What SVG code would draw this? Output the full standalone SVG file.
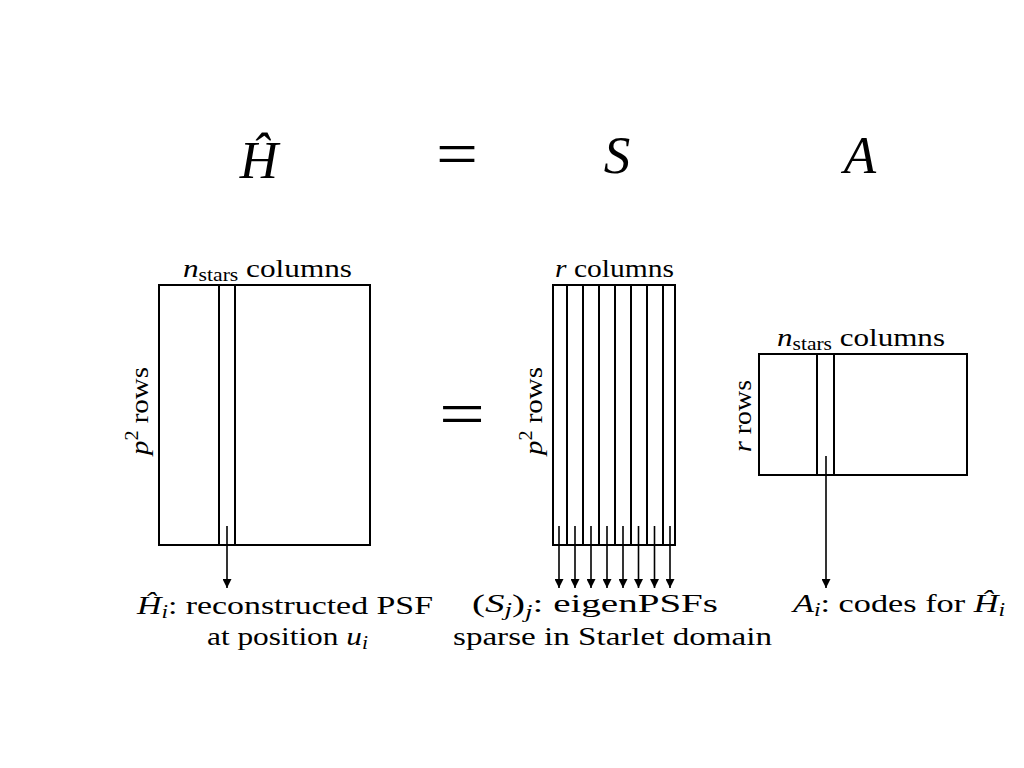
<svg xmlns="http://www.w3.org/2000/svg" width="1024" height="768" viewBox="0 0 1024 768">
<style>
.t{font-family:"Liberation Serif","DejaVu Serif",serif;fill:#000}
.lbl{font-size:26px}
.it{font-style:italic}
.sub{font-size:18px}
.big{font-size:53px;font-style:italic}
.eq{font-size:64px}
.box{fill:none;stroke:#000;stroke-width:2}
.ln{stroke:#000;stroke-width:2;fill:none}
.ar{stroke:#000;stroke-width:1.6;fill:none;marker-end:url(#ah)}
</style>
<defs>
<marker id="ah" markerWidth="10" markerHeight="9" refX="9" refY="4.5" orient="auto" markerUnits="userSpaceOnUse">
<path d="M0,0 L9,4.5 L0,9 Z" fill="#000"/>
</marker>
</defs>
<rect width="1024" height="768" fill="#fff"/>

<g id="equation">
<text class="t big" x="259" y="178" text-anchor="middle">Ĥ</text>
<text class="t eq" x="457" y="175" text-anchor="middle" textLength="42" lengthAdjust="spacingAndGlyphs">=</text>
<text class="t big" x="617" y="173" text-anchor="middle">S</text>
<text class="t big" x="860" y="173" text-anchor="middle">A</text>
<text class="t eq" x="462" y="435" text-anchor="middle" textLength="46" lengthAdjust="spacingAndGlyphs">=</text>
</g>

<g id="matrix-H">
<rect class="box" x="159" y="285" width="211" height="260"/>
<line class="ln" x1="219" y1="285" x2="219" y2="545"/>
<line class="ln" x1="235" y1="285" x2="235" y2="545"/>
<text class="t lbl" x="183" y="277" textLength="169" lengthAdjust="spacingAndGlyphs"><tspan class="it">n</tspan><tspan class="sub" dy="4">stars</tspan><tspan dy="-4"> columns</tspan></text>
<text class="t lbl" transform="translate(148,411) rotate(-90)" text-anchor="middle" textLength="88" lengthAdjust="spacingAndGlyphs"><tspan class="it">p</tspan><tspan class="sub" dy="-10">2</tspan><tspan dy="10"> rows</tspan></text>
<text class="t lbl" x="137" y="614" textLength="296" lengthAdjust="spacingAndGlyphs"><tspan class="it">Ĥ</tspan><tspan class="sub it" dy="4">i</tspan><tspan dy="-4">: reconstructed PSF</tspan></text>
<text class="t lbl" x="207" y="645" textLength="161" lengthAdjust="spacingAndGlyphs">at position <tspan class="it">u</tspan><tspan class="sub it" dy="4">i</tspan></text>
</g>

<g id="matrix-S">
<rect class="box" x="553" y="285" width="122" height="260"/>
<line class="ln" x1="567" y1="285" x2="567" y2="545"/>
<line class="ln" x1="583" y1="285" x2="583" y2="545"/>
<line class="ln" x1="599" y1="285" x2="599" y2="545"/>
<line class="ln" x1="615" y1="285" x2="615" y2="545"/>
<line class="ln" x1="631" y1="285" x2="631" y2="545"/>
<line class="ln" x1="647" y1="285" x2="647" y2="545"/>
<line class="ln" x1="663" y1="285" x2="663" y2="545"/>
<text class="t lbl" x="555" y="277" textLength="119" lengthAdjust="spacingAndGlyphs"><tspan class="it">r</tspan> columns</text>
<text class="t lbl" transform="translate(542,411) rotate(-90)" text-anchor="middle" textLength="88" lengthAdjust="spacingAndGlyphs"><tspan class="it">p</tspan><tspan class="sub" dy="-10">2</tspan><tspan dy="10"> rows</tspan></text>
<text class="t lbl" x="472" y="612" textLength="246" lengthAdjust="spacingAndGlyphs">(<tspan class="it">S</tspan><tspan class="sub it" dy="4">j</tspan><tspan dy="-4">)</tspan><tspan class="sub it" dy="6">j</tspan><tspan dy="-6">: eigenPSFs</tspan></text>
<text class="t lbl" x="453" y="645" textLength="319" lengthAdjust="spacingAndGlyphs">sparse in Starlet domain</text>
</g>

<g id="matrix-A">
<rect class="box" x="759" y="354" width="208" height="121"/>
<line class="ln" x1="817" y1="354" x2="817" y2="475"/>
<line class="ln" x1="834" y1="354" x2="834" y2="475"/>
<text class="t lbl" x="777" y="346" textLength="168" lengthAdjust="spacingAndGlyphs"><tspan class="it">n</tspan><tspan class="sub" dy="4">stars</tspan><tspan dy="-4"> columns</tspan></text>
<text class="t lbl" transform="translate(751,416) rotate(-90)" text-anchor="middle" textLength="72" lengthAdjust="spacingAndGlyphs"><tspan class="it">r</tspan> rows</text>
<text class="t lbl" x="793" y="612" textLength="212" lengthAdjust="spacingAndGlyphs"><tspan class="it">A</tspan><tspan class="sub it" dy="4">i</tspan><tspan dy="-4">: codes for </tspan><tspan class="it">Ĥ</tspan><tspan class="sub it" dy="4">i</tspan></text>
</g>

<g id="connectors">
<line class="ar" x1="227" y1="526" x2="227" y2="588"/>
<line class="ar" x1="559" y1="526" x2="559" y2="588"/>
<line class="ar" x1="575" y1="526" x2="575" y2="588"/>
<line class="ar" x1="591" y1="526" x2="591" y2="588"/>
<line class="ar" x1="607" y1="526" x2="607" y2="588"/>
<line class="ar" x1="623" y1="526" x2="623" y2="588"/>
<line class="ar" x1="638.5" y1="526" x2="638.5" y2="588"/>
<line class="ar" x1="654.5" y1="526" x2="654.5" y2="588"/>
<line class="ar" x1="670" y1="526" x2="670" y2="588"/>
<line class="ar" x1="826" y1="456" x2="826" y2="588"/>
</g>
</svg>
